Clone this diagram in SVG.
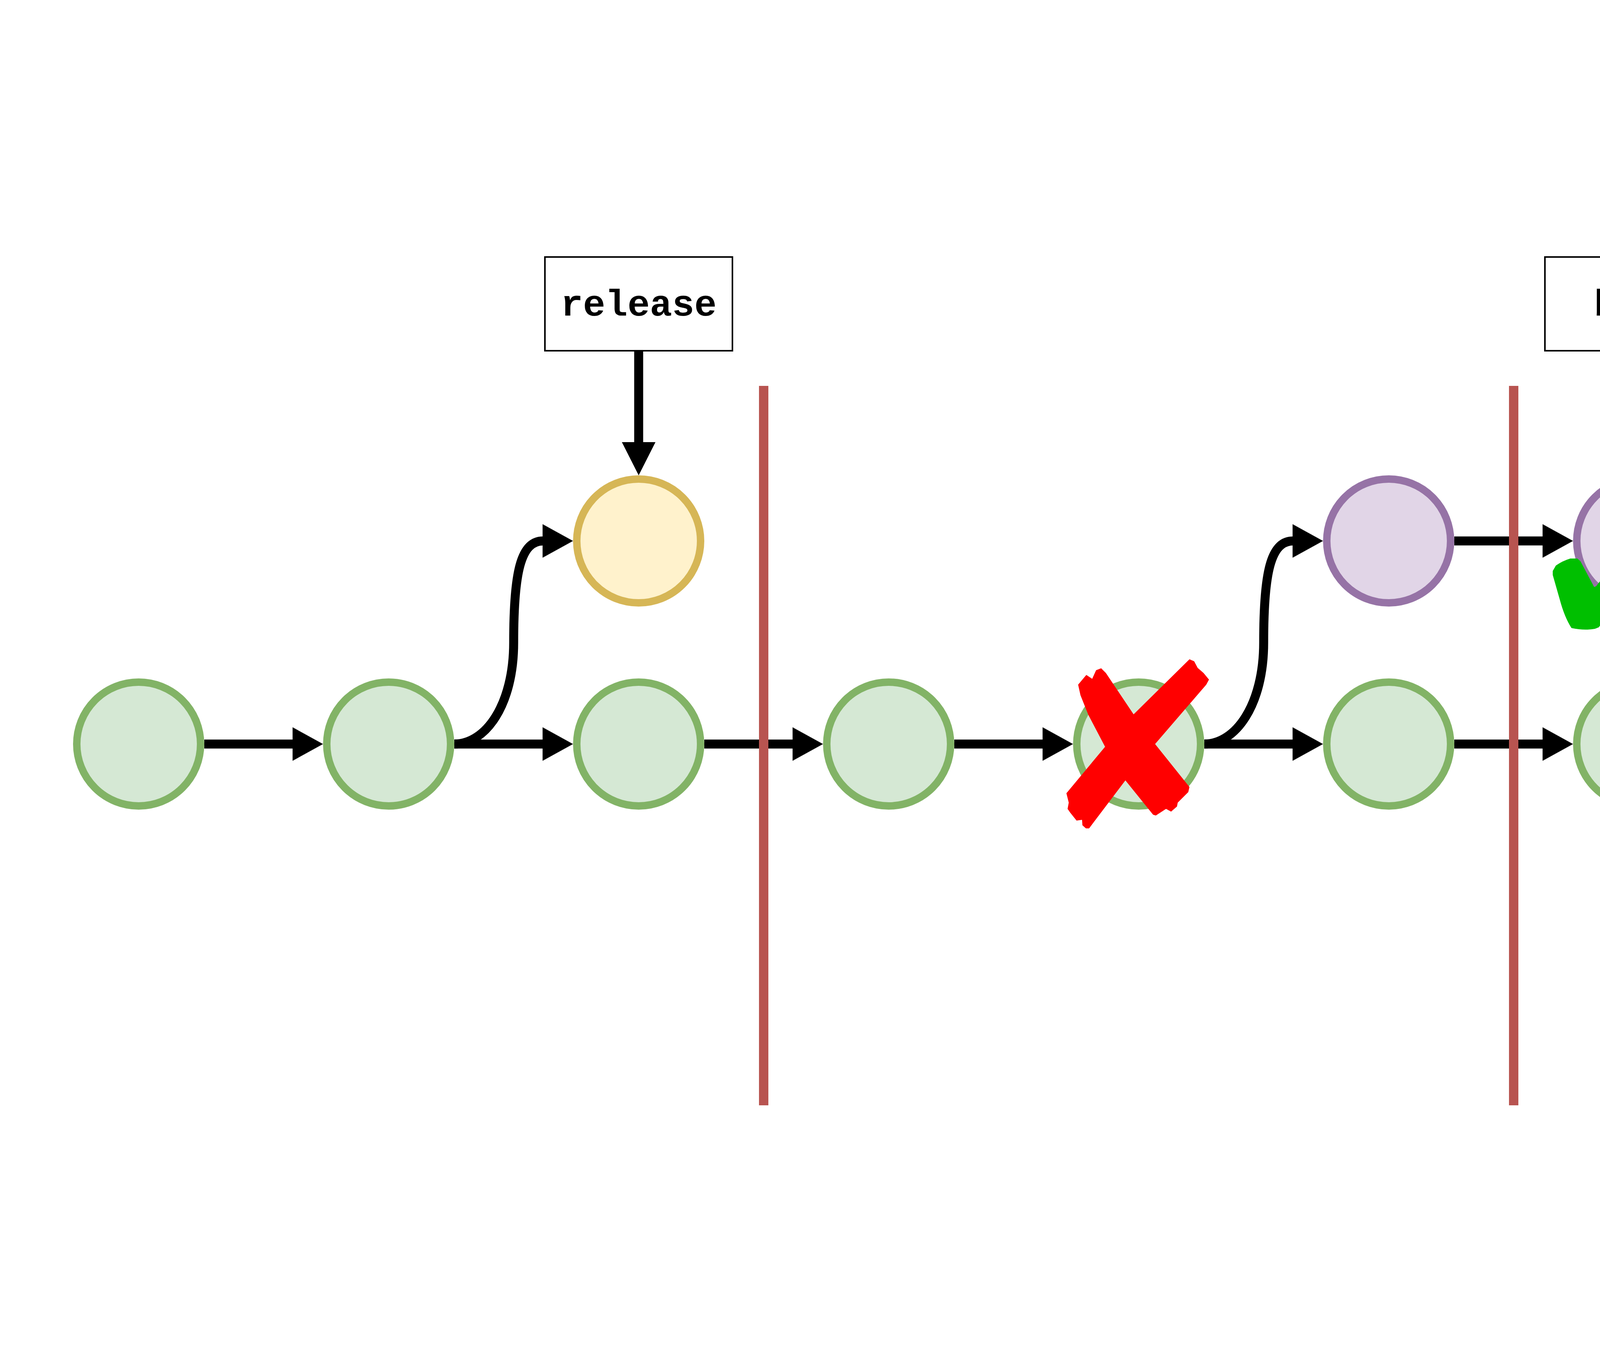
<svg xmlns="http://www.w3.org/2000/svg" width="6000" height="3500" viewBox="0 0 6000 3500">
<style>
.edge{fill:none;stroke:#000;stroke-width:23}
.h{marker-end:url(#ah)}
.v{marker-end:url(#av)}
.green{fill:#d5e8d4;stroke:#82b366;stroke-width:19}
.yellow{fill:#fff2cc;stroke:#d6b656;stroke-width:19}
.purple{fill:#e1d5e7;stroke:#9673a6;stroke-width:19}
.red{fill:#f8cecc;stroke:#b85450;stroke-width:19}
.box{fill:#fff;stroke:#000;stroke-width:4}
.lbl{font-family:"Liberation Mono","Courier New",monospace;font-weight:bold;font-size:95px;text-anchor:middle;fill:#000}
.sep{stroke:#b85450;stroke-width:24}
</style>
<defs>
<marker id="ah" markerUnits="userSpaceOnUse" markerWidth="78" markerHeight="86" viewBox="0 0 78 86" refX="1" refY="43" orient="auto"><path d="M0,0 L78,43 L0,86 Z" fill="#000"/></marker>
<marker id="av" markerUnits="userSpaceOnUse" markerWidth="85" markerHeight="86" viewBox="0 0 85 86" refX="1" refY="43" orient="auto"><path d="M0,0 L85,43 L0,86 Z" fill="#000"/></marker>
</defs>
<g id="connectors">
<line class="edge h" x1="523" y1="1905" x2="750" y2="1905"/>
<line class="edge h" x1="1163" y1="1905" x2="1390" y2="1905"/>
<line class="edge h" x1="1803" y1="1905" x2="2030" y2="1905"/>
<line class="edge h" x1="2443" y1="1905" x2="2670" y2="1905"/>
<line class="edge h" x1="3083" y1="1905" x2="3310" y2="1905"/>
<line class="edge h" x1="3723" y1="1905" x2="3950" y2="1905"/>
<line class="edge h" x1="4363" y1="1905" x2="4590" y2="1905"/>
<line class="edge h" x1="5003" y1="1905" x2="5230" y2="1905"/>
<line class="edge h" x1="3723" y1="1385" x2="3950" y2="1385"/>
<path class="edge h" d="M1163,1905 C1243,1905 1315,1805 1315,1645 C1315,1465 1333,1385 1390,1385"/>
<path class="edge h" d="M3083,1905 C3163,1905 3235,1805 3235,1645 C3235,1465 3253,1385 3310,1385"/>
<path class="edge h" d="M5003,1905 C5083,1905 5155,1805 5155,1645 C5155,1465 5173,1385 5230,1385"/>
<line class="edge v" x1="1635" y1="898" x2="1635" y2="1133"/>
<line class="edge v" x1="4195" y1="898" x2="4195" y2="1133"/>
<line class="edge v" x1="5475" y1="905" x2="5475" y2="1133"/>
<line class="edge v" x1="5475" y1="2346" x2="5475" y2="2158"/>
</g>
<g id="commit-1"><circle class="green" cx="355" cy="1905" r="158.5"/></g>
<g id="commit-2"><circle class="green" cx="995" cy="1905" r="158.5"/></g>
<g id="commit-3"><circle class="green" cx="1635" cy="1905" r="158.5"/></g>
<g id="commit-4"><circle class="green" cx="2275" cy="1905" r="158.5"/></g>
<g id="commit-5"><circle class="green" cx="2915" cy="1905" r="158.5"/></g>
<g id="commit-6"><circle class="green" cx="3555" cy="1905" r="158.5"/></g>
<g id="commit-7"><circle class="green" cx="4195" cy="1905" r="158.5"/></g>
<g id="commit-8"><circle class="green" cx="4835" cy="1905" r="158.5"/></g>
<g id="commit-9"><circle class="green" cx="5475" cy="1905" r="158.5"/></g>
<g id="release-commit"><circle class="yellow" cx="1635" cy="1385" r="158.5"/></g>
<g id="beta-commit-1"><circle class="purple" cx="3555" cy="1385" r="158.5"/></g>
<g id="beta-commit-2"><circle class="purple" cx="4195" cy="1385" r="158.5"/></g>
<g id="canary-commit"><circle class="red" cx="5475" cy="1385" r="158.5"/></g>
<g id="release-label"><rect class="box" x="1395" y="658" width="480" height="240"/><text class="lbl" x="1635" y="808">release</text></g>
<g id="beta-label"><rect class="box" x="3955" y="658" width="480" height="240"/><text class="lbl" x="4195" y="808">beta</text></g>
<g id="canary-label"><rect class="box" x="5235" y="665" width="480" height="240"/><text class="lbl" x="5475" y="814">canary</text></g>
<g id="master-label"><rect class="box" x="5235" y="2346" width="480" height="240"/><text class="lbl" x="5475" y="2494">master</text></g>
<g id="separators">
<line class="sep" x1="1955" y1="988" x2="1955" y2="2830"/>
<line class="sep" x1="3875" y1="988" x2="3875" y2="2830"/>
<line class="sep" x1="5795" y1="988" x2="5795" y2="2830"/>
</g>
<g id="cross" fill="#ff0000">
<polygon points="2760,1753 2781,1728 2796,1738 2806,1716 2819,1711 2831,1723 2902,1829 2957,1905 3045,2015 3042,2028 3015,2055 3013,2065 2998,2078 2985,2071 2959,2088 2952,2086 2881,1998 2829,1912 2786,1830 2766,1780"/>
<polygon points="3045,1688 3057,1693 3066,1710 3081,1723 3095,1740 3088,1753 2957,1905 2881,1998 2788,2121 2780,2121 2771,2113 2770,2099 2756,2101 2740,2081 2733,2071 2736,2055 2730,2031 2829,1912 2902,1829"/>
</g>
<g id="check">
<path fill="#00bf00" d="M3975,1462 L3983,1448 Q4000,1436 4020,1430 L4038,1430 L4046,1437 L4081,1503 L4086,1501 Q4208,1350 4308,1191 Q4330,1170 4351,1163 Q4380,1155 4406,1156 L4411,1163 L4401,1180 L4093,1606 L4083,1610 Q4056,1615 4023,1608 Q4005,1580 3993,1535 L3975,1472 Z"/>
</g>
</svg>
